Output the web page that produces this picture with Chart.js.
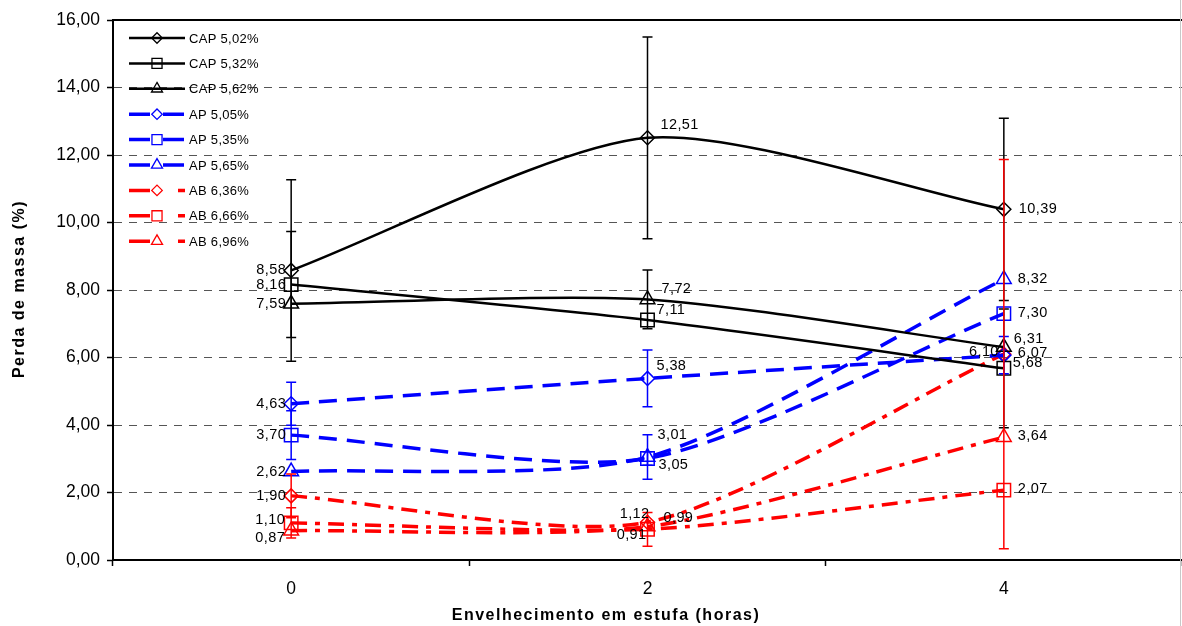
<!DOCTYPE html>
<html>
<head>
<meta charset="utf-8">
<script src="https://cdn.jsdelivr.net/npm/chart.js@4.4.1/dist/chart.umd.min.js"></script>
<style>
  body { margin: 0; background: #fff; }
  canvas { display: block; }
</style>
</head>
<body>
<canvas id="chart" width="1182" height="626"></canvas>
<script>
// oven ageing time (hours)
const hours = ['0', '2', '4'];

const seriesNames = ['CAP 5,02%', 'CAP 5,32%', 'CAP 5,62%',
                     'AP 5,05%', 'AP 5,35%', 'AP 5,65%',
                     'AB 6,36%', 'AB 6,66%', 'AB 6,96%'];

// mass loss (%) and the +/- error for each point
const cap502 = [8.58, 12.51, 10.39];
const cap502Err = [2.69, 2.99, 2.70];
const cap532 = [8.16, 7.11, 5.68];
const cap532Err = [1.57, 0, 1.76];
const cap562 = [7.59, 7.72, 6.31];
const cap562Err = [0, 0.87, 0];
const ap505 = [4.63, 5.38, 6.07];
const ap505Err = [0.64, 0.84, 0.55];
const ap535 = [3.70, 3.01, 7.30];
const ap535Err = [0.72, 0.20, 0];
const ap565 = [2.62, 3.05, 8.32];
const ap565Err = [0, 0.66, 0];
const ab636 = [1.90, 1.12, 6.10];
const ab636Err = [0.65, 0, 5.77];
const ab666 = [1.10, 0.91, 2.07];
const ab666Err = [0.45, 0.50, 0];
const ab696 = [0.87, 0.99, 3.64];
const ab696Err = [0, 0, 0];

const yTicks = [0, 2, 4, 6, 8, 10, 12, 14, 16];

const FONT = "'Liberation Sans', Arial, sans-serif";
const fmt = v => v.toFixed(2).replace('.', ',');

// line families
const looks = {
  cap: { color: '#000000', width: 2.5, dash: [], legendDash: [] },
  ap:  { color: '#0000ff', width: 3.5, dash: [18, 10], legendDash: [21, 13, 21, 100] },
  ab:  { color: '#ff0000', width: 3.5, dash: [16, 8, 5, 8], legendDash: [21, 28, 7, 100] }
};
const shapes = { rectRot: 7, rect: 9.5, triangle: 8.5 };

// where each value label sits: side, x offset, y offset
const labelSpots = [
  [['l', -5, 0], ['r', 13, -13], ['r', 15, 0]],
  [['l', -5, 0], ['r', 9, -10], ['r', 9, -5]],
  [['l', -5, 0], ['r', 14, -10], ['r', 10, -8]],
  [['l', -5, 0], ['r', 9, -12], ['r', 14, -2]],
  [['l', -5, 0], ['r', 10, -23], ['r', 14, -1]],
  [['l', -5, 0], ['r', 11, 8], ['r', 14, 0]],
  [['l', -5, 0], ['l', 2, -8], ['l', -5, -2]],
  [['l', -6, -3], ['l', -1, 6], ['r', 14, -1]],
  [['l', -6, 7], ['r', 16, -9], ['r', 14, -1]]
];

const series = [
  [cap502, cap502Err, 'cap', 'rectRot'],
  [cap532, cap532Err, 'cap', 'rect'],
  [cap562, cap562Err, 'cap', 'triangle'],
  [ap505, ap505Err, 'ap', 'rectRot'],
  [ap535, ap535Err, 'ap', 'rect'],
  [ap565, ap565Err, 'ap', 'triangle'],
  [ab636, ab636Err, 'ab', 'rectRot'],
  [ab666, ab666Err, 'ab', 'rect'],
  [ab696, ab696Err, 'ab', 'triangle']
];

const datasets = series.map(([values, err, look, shape], i) => {
  const L = looks[look];
  return {
    label: seriesNames[i],
    data: values,
    err: err,
    look: look,
    spots: labelSpots[i],
    borderColor: L.color,
    borderWidth: L.width,
    borderDash: L.dash,
    tension: 0.25,
    fill: false,
    pointStyle: shape,
    pointRadius: shapes[shape],
    pointHoverRadius: shapes[shape],
    pointBorderColor: L.color,
    pointBackgroundColor: 'rgba(0,0,0,0)',
    pointBorderWidth: 1.5
  };
});

function marker(ctx, shape, x, y, r) {
  ctx.beginPath();
  if (shape === 'rectRot') {
    ctx.moveTo(x - r, y); ctx.lineTo(x, y - r); ctx.lineTo(x + r, y); ctx.lineTo(x, y + r);
    ctx.closePath();
  } else if (shape === 'rect') {
    const s = r * Math.SQRT1_2;
    ctx.rect(x - s, y - s, 2 * s, 2 * s);
  } else {
    const w = r * Math.sin(2 * Math.PI / 3);
    ctx.moveTo(x, y - r); ctx.lineTo(x + w, y + r / 2); ctx.lineTo(x - w, y + r / 2);
    ctx.closePath();
  }
  ctx.stroke();
}

const extras = {
  id: 'extras',
  afterDatasetsDraw(chart) {
    const ctx = chart.ctx;
    const y = chart.scales.y;
    // error bars
    chart.data.datasets.forEach((ds, di) => {
      const meta = chart.getDatasetMeta(di);
      ctx.save();
      ctx.strokeStyle = ds.borderColor;
      ctx.lineWidth = 1.5;
      ctx.setLineDash([]);
      meta.data.forEach((pt, i) => {
        const e = ds.err[i];
        if (!e) return;
        const top = y.getPixelForValue(ds.data[i] + e);
        const bot = y.getPixelForValue(ds.data[i] - e);
        ctx.beginPath();
        ctx.moveTo(pt.x, top); ctx.lineTo(pt.x, bot);
        ctx.moveTo(pt.x - 5, top); ctx.lineTo(pt.x + 5, top);
        ctx.moveTo(pt.x - 5, bot); ctx.lineTo(pt.x + 5, bot);
        ctx.stroke();
      });
      ctx.restore();
    });
  },
  afterDraw(chart) {
    const ctx = chart.ctx;
    const area = chart.chartArea;
    ctx.save();

    // frame: top edge and outer right edge
    ctx.strokeStyle = '#000';
    ctx.lineWidth = 2;
    ctx.beginPath();
    ctx.moveTo(area.left, area.top); ctx.lineTo(area.right, area.top);
    ctx.stroke();
    ctx.strokeStyle = '#c8c8c8';
    ctx.lineWidth = 1;
    ctx.beginPath();
    ctx.moveTo(chart.width - 1.5, 0); ctx.lineTo(chart.width - 1.5, chart.height);
    ctx.stroke();

    // value labels
    ctx.fillStyle = '#000';
    ctx.font = '14.5px ' + FONT;
    ctx.letterSpacing = '0.4px';
    ctx.textBaseline = 'middle';
    chart.data.datasets.forEach((ds, di) => {
      const meta = chart.getDatasetMeta(di);
      meta.data.forEach((pt, i) => {
        const [side, dx, dy] = ds.spots[i];
        ctx.textAlign = side === 'l' ? 'right' : 'left';
        ctx.fillText(fmt(ds.data[i]), pt.x + dx, pt.y + dy);
      });
    });

    // legend
    ctx.font = '13px ' + FONT;
    ctx.letterSpacing = '0.3px';
    ctx.textAlign = 'left';
    chart.data.datasets.forEach((ds, i) => {
      const ly = 38 + i * 25.4;
      const L = looks[ds.look];
      ctx.strokeStyle = L.color;
      ctx.lineWidth = L.width;
      ctx.setLineDash(L.legendDash);
      ctx.beginPath();
      ctx.moveTo(129, ly); ctx.lineTo(185, ly);
      ctx.stroke();
      ctx.setLineDash([]);
      ctx.lineWidth = 1.3;
      marker(ctx, ds.pointStyle, 157, ly, ds.pointRadius * 0.75);
      ctx.fillText(ds.label, 189, ly + 1);
    });

    // axis titles
    ctx.font = 'bold 16px ' + FONT;
    ctx.letterSpacing = '1.5px';
    ctx.textAlign = 'center';
    ctx.fillText('Envelhecimento em estufa (horas)', 606, 616);
    ctx.translate(20, 289);
    ctx.rotate(-Math.PI / 2);
    ctx.fillText('Perda de massa (%)', 0, 0);
    ctx.restore();
  }
};

new Chart(document.getElementById('chart'), {
  type: 'line',
  data: { labels: hours, datasets: datasets },
  plugins: [extras],
  options: {
    responsive: false,
    animation: false,
    devicePixelRatio: 1,
    layout: { autoPadding: false, padding: { top: 20, right: 0, bottom: 0, left: 0 } },
    plugins: { legend: { display: false }, tooltip: { enabled: false } },
    scales: {
      x: {
        type: 'category',
        offset: true,
        afterFit: s => { s.height = 66; s.paddingLeft = 0; s.paddingRight = 0; },
        grid: { offset: true, drawOnChartArea: false, tickLength: 6, tickColor: '#000', tickWidth: 1.5 },
        border: { color: '#000', width: 2 },
        ticks: { color: '#000', padding: 13, font: { family: FONT, size: 17.5 } }
      },
      y: {
        min: 0,
        max: 16,
        afterFit: s => { s.width = 113; s.paddingTop = 0; s.paddingBottom = 0; },
        afterBuildTicks: s => { s.ticks = yTicks.map(v => ({ value: v })); },
        grid: {
          color: c => (c.tick && (c.tick.value === 0 || c.tick.value === 16)) ? 'rgba(0,0,0,0)' : '#555',
          lineWidth: 1,
          tickLength: 6,
          tickColor: '#000',
          tickWidth: 1.5,
          tickBorderDash: []
        },
        border: { color: '#000', width: 2, dash: [8, 7] },
        ticks: { color: '#000', padding: 7, font: { family: FONT, size: 17.5 }, callback: v => fmt(v) }
      }
    }
  }
});
</script>
</body>
</html>
